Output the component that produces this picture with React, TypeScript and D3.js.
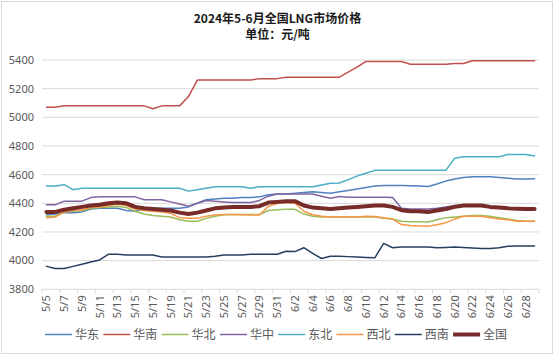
import React from "react";
import * as d3 from "d3";

const dates: string[] = (() => {
  const out: string[] = [];
  for (let d = 5; d <= 31; d++) out.push(`5/${d}`);
  for (let d = 1; d <= 29; d++) out.push(`6/${d}`);
  return out;
})();

const yTicks = [3800, 4000, 4200, 4400, 4600, 4800, 5000, 5200, 5400];

const huadong = [4320, 4325, 4335, 4335, 4340, 4360, 4365, 4365, 4365, 4350, 4345, 4360, 4365, 4365, 4365, 4365, 4375, 4400, 4425, 4430, 4435, 4435, 4440, 4440, 4445, 4460, 4465, 4465, 4470, 4475, 4480, 4475, 4470, 4480, 4490, 4500, 4510, 4520, 4525, 4525, 4525, 4522, 4520, 4518, 4535, 4555, 4570, 4580, 4585, 4585, 4585, 4580, 4575, 4570, 4570, 4572];
const huanan = [5070, 5070, 5080, 5080, 5080, 5080, 5080, 5080, 5080, 5080, 5080, 5080, 5060, 5080, 5080, 5080, 5145, 5260, 5260, 5260, 5260, 5260, 5260, 5260, 5270, 5270, 5270, 5280, 5280, 5280, 5280, 5280, 5280, 5280, 5315, 5350, 5390, 5390, 5390, 5390, 5390, 5370, 5370, 5370, 5370, 5370, 5375, 5375, 5395, 5395, 5395, 5395, 5395, 5395, 5395, 5395];
const huabei = [4310, 4310, 4340, 4345, 4350, 4365, 4370, 4375, 4380, 4370, 4345, 4325, 4315, 4310, 4305, 4285, 4275, 4275, 4295, 4310, 4320, 4322, 4322, 4322, 4322, 4350, 4355, 4358, 4358, 4325, 4310, 4305, 4304, 4304, 4304, 4304, 4304, 4304, 4295, 4290, 4275, 4272, 4272, 4270, 4285, 4300, 4305, 4310, 4315, 4315, 4310, 4300, 4290, 4280, 4275, 4275];
const huazhong = [4390, 4390, 4415, 4415, 4415, 4440, 4445, 4445, 4445, 4445, 4445, 4425, 4425, 4425, 4410, 4395, 4380, 4400, 4420, 4415, 4410, 4405, 4405, 4405, 4420, 4450, 4465, 4465, 4465, 4465, 4465, 4450, 4435, 4447, 4442, 4442, 4442, 4442, 4442, 4440, 4365, 4360, 4360, 4360, 4365, 4375, 4385, 4390, 4390, 4390, 4375, 4365, 4362, 4360, 4360, 4360];
const dongbei = [4520, 4520, 4530, 4495, 4505, 4505, 4505, 4505, 4505, 4505, 4505, 4505, 4505, 4505, 4505, 4505, 4485, 4495, 4505, 4515, 4515, 4515, 4515, 4505, 4515, 4515, 4515, 4515, 4515, 4515, 4515, 4528, 4540, 4542, 4565, 4590, 4610, 4630, 4630, 4630, 4630, 4630, 4630, 4630, 4630, 4630, 4715, 4725, 4725, 4725, 4725, 4725, 4740, 4740, 4740, 4730];
const xibei = [4300, 4305, 4340, 4350, 4355, 4370, 4375, 4385, 4395, 4385, 4360, 4350, 4345, 4340, 4330, 4300, 4295, 4295, 4310, 4318, 4322, 4322, 4320, 4318, 4318, 4380, 4398, 4405, 4400, 4345, 4320, 4310, 4305, 4305, 4305, 4305, 4310, 4308, 4300, 4290, 4252, 4245, 4242, 4240, 4250, 4265, 4290, 4310, 4310, 4310, 4300, 4290, 4285, 4275, 4275, 4275];
const xinan = [3960, 3945, 3945, 3960, 3975, 3990, 4005, 4045, 4045, 4040, 4040, 4040, 4040, 4025, 4025, 4025, 4025, 4025, 4025, 4030, 4040, 4040, 4040, 4045, 4045, 4045, 4045, 4065, 4063, 4090, 4050, 4015, 4030, 4030, 4028, 4025, 4022, 4020, 4120, 4090, 4095, 4095, 4095, 4095, 4090, 4092, 4095, 4092, 4088, 4085, 4085, 4090, 4100, 4102, 4102, 4102];
const quanguo = [4340, 4340, 4355, 4365, 4375, 4385, 4390, 4400, 4405, 4400, 4375, 4365, 4360, 4355, 4350, 4335, 4325, 4335, 4350, 4365, 4370, 4375, 4375, 4375, 4380, 4405, 4410, 4415, 4415, 4385, 4370, 4365, 4360, 4365, 4370, 4375, 4380, 4385, 4385, 4375, 4352, 4345, 4345, 4340, 4350, 4360, 4375, 4385, 4385, 4385, 4375, 4370, 4365, 4362, 4360, 4360];

const seriesNames = ["华东", "华南", "华北", "华中", "东北", "西北", "西南", "全国"];
const seriesData = [huadong, huanan, huabei, huazhong, dongbei, xibei, xinan, quanguo];
const seriesColors = ["#4f81bd", "#c0504d", "#9bbb59", "#8064a2", "#4bacc6", "#f79646", "#243f60", "#772c2a"];
const seriesWidths = [1.5, 1.5, 1.5, 1.5, 1.5, 1.5, 1.5, 4];

const W = 556;
const H = 356;
const left = 42;
const right = 539;
const top = 60;
const bottom = 289.3;

export default function App() {
  const x = d3.scaleBand<string>().domain(dates).range([left, right]);
  const y = d3.scaleLinear().domain([3800, 5400]).range([bottom, top]);
  const bw = x.bandwidth();
  const cx = (d: string) => (x(d) as number) + bw / 2;
  const line = d3
    .line<number>()
    .x((_, i) => cx(dates[i]))
    .y((v) => y(v));

  const font = "'Noto Sans', 'Noto Sans CJK SC', sans-serif";
  const cjk = "'Noto Sans CJK SC', sans-serif";
  const legendStart = 45;
  const legendStep = 58.3;

  return (
    <svg
      width={W}
      height={H}
      style={{ position: "absolute", left: 0, top: 0, background: "#fff" }}
    >
      <rect x={0} y={0} width={W} height={H} fill="#fff" />
      <rect x={1.5} y={1.5} width={551} height={352} fill="none" stroke="#d9d9d9" />
      <text x={277.5} y={23} textAnchor="middle" fontFamily={cjk} fontSize={12} fontWeight="bold" fill="#1a1a1a">
        2024年5-6月全国LNG市场价格
      </text>
      <text x={277.5} y={39} textAnchor="middle" fontFamily={cjk} fontSize={12} fontWeight="bold" fill="#1a1a1a">
        单位：元/吨
      </text>
      {yTicks.map((t) => (
        <g key={t}>
          <line x1={left} x2={right} y1={y(t)} y2={y(t)} stroke="#d9d9d9" strokeWidth={1} />
          <text x={34} y={y(t)} dy="0.35em" textAnchor="end" fontFamily={font} fontSize={11} fill="#595959">
            {t}
          </text>
        </g>
      ))}
      {dates.map((d, i) =>
        i % 2 === 0 ? (
          <line key={"t" + d} x1={x(d)} x2={x(d)} y1={bottom} y2={bottom + 4} stroke="#d9d9d9" />
        ) : null
      )}
      <line x1={right} x2={right} y1={bottom} y2={bottom + 4} stroke="#d9d9d9" />
      {dates.map((d, i) =>
        i % 2 === 0 ? (
          <text
            key={"l" + d}
            transform={`translate(${cx(d)},${bottom + 6}) rotate(-90)`}
            textAnchor="end"
            dy="0.35em"
            fontFamily={font}
            fontSize={11}
            fill="#595959"
          >
            {d}
          </text>
        ) : null
      )}
      {seriesData.map((s, k) => (
        <path
          key={seriesNames[k]}
          d={line(s) || ""}
          fill="none"
          stroke={seriesColors[k]}
          strokeWidth={seriesWidths[k]}
          strokeLinejoin="round"
          strokeLinecap="round"
        />
      ))}
      {seriesNames.map((n, k) => {
        const lx = legendStart + k * legendStep;
        return (
          <g key={"lg" + n}>
            <line x1={lx} x2={lx + 27} y1={334.5} y2={334.5} stroke={seriesColors[k]} strokeWidth={k === 7 ? 4 : 1.5} />
            <text x={lx + 30} y={334.5} dy="0.36em" fontFamily={cjk} fontSize={12} fill="#595959">
              {n}
            </text>
          </g>
        );
      })}
    </svg>
  );
}
